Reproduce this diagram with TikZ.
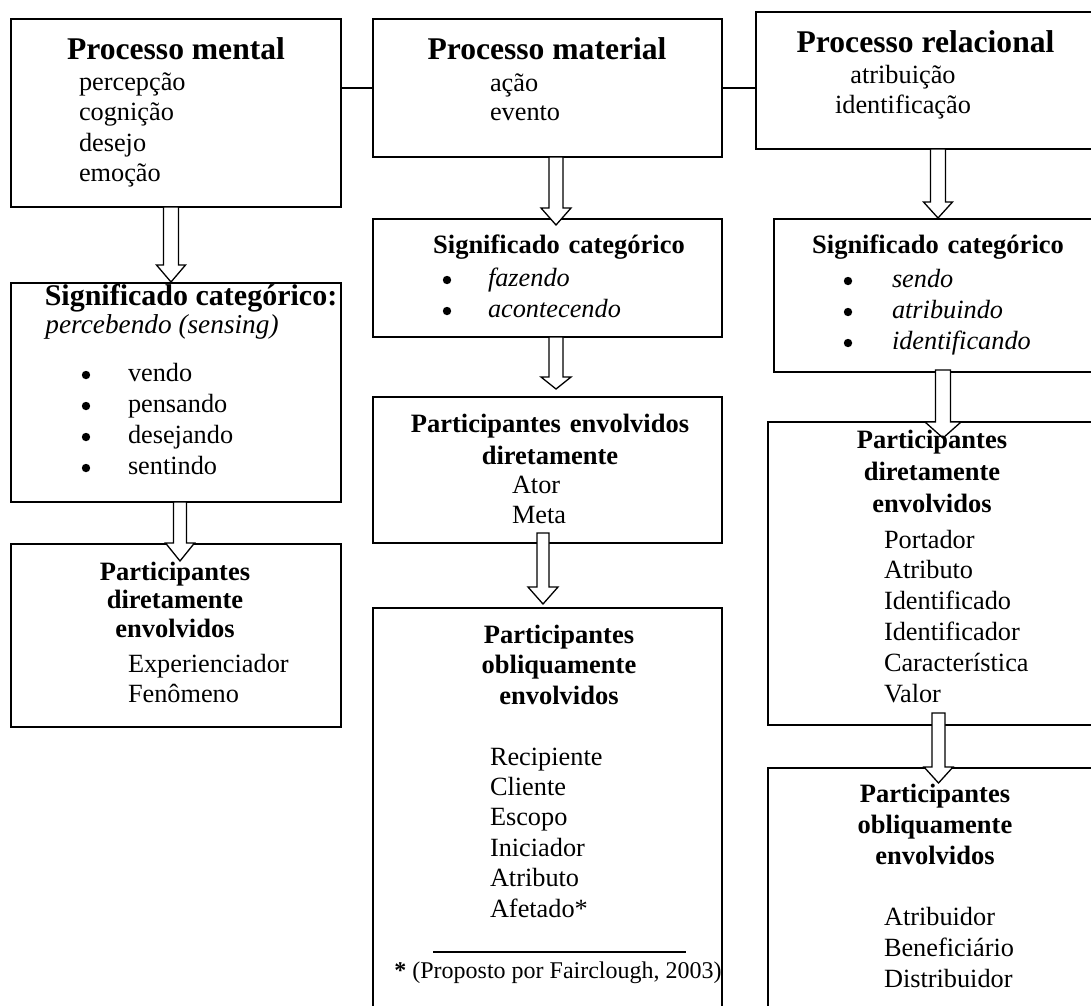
\documentclass[tikz,border=0pt]{standalone}
\usepackage{fontspec}
\setmainfont{Liberation Serif}
\usetikzlibrary{calc}

% hollow block arrow: start, tip, shaft half width, head half width, head length
\newcommand\hollowarrow[5]{%
  \draw[arr] let \p1=(#1), \p2=(#2) in
    (\x1-#3,\y1) -- (\x1-#3,\y2+#5) -- (\x1-#4,\y2+#5) -- (\x1,\y2)
    -- (\x1+#4,\y2+#5) -- (\x1+#3,\y2+#5) -- (\x1+#3,\y1) -- cycle;}
% round list markers: list node, left offset, number of lines, line step
\newcommand\bullets[4]{%
  \foreach \i in {1,...,#3}
    \fill ([xshift=-#2, yshift=6pt-#4*(\i-1)]#1.base west) circle (4.2pt);}

\tikzset{
  box/.style={draw, line width=1.6pt, fill=white, inner sep=0pt, outer sep=0pt, anchor=north west},
  arr/.style={draw, line width=1.3pt, fill=white, line join=miter},
  link/.style={line width=1.3pt},
  ttl/.style={inner sep=0pt, outer sep=0pt, anchor=base, font=\bfseries\fontsize{31.6}{36}\selectfont},
  lst/.style={inner sep=0pt, outer sep=0pt, anchor=base west, text width=200pt, align=left,
              font=\fontsize{26.3}{#1}\selectfont},
  clst/.style={inner sep=0pt, outer sep=0pt, anchor=base, text width=300pt, align=center,
              font=\fontsize{26.3}{#1}\selectfont},
  hd/.style={inner sep=0pt, outer sep=0pt, anchor=base, text width=300pt, align=center,
              font=\bfseries\fontsize{26.5}{#1}\selectfont},
}

\begin{document}
\begin{tikzpicture}[x=1pt, y=-1pt]
\useasboundingbox (0,0) rectangle (1091,1005);
\clip (0,0) rectangle (1091,1005);

% boxes
\node[box, minimum width=330pt, minimum height=188pt] (mental) at (11,19) {};
\node[box, minimum width=349pt, minimum height=138pt] (material) at (373,19) {};
\node[box, minimum width=339pt, minimum height=137pt] (relacional) at (756,12) {};
\node[box, minimum width=330pt, minimum height=219pt] (sigM) at (11,283) {};
\node[box, minimum width=349pt, minimum height=118pt] (sigMat) at (373,219) {};
\node[box, minimum width=328pt, minimum height=153pt] (sigRel) at (774,219) {};
\node[box, minimum width=330pt, minimum height=183pt] (partM) at (11,544) {};
\node[box, minimum width=349pt, minimum height=146pt] (partMat) at (373,397) {};
\node[box, minimum width=330pt, minimum height=303pt] (partRel) at (768,422) {};
\node[box, minimum width=349pt, minimum height=400pt] (oblMat) at (373,608) {};
\node[box, minimum width=330pt, minimum height=240pt] (oblRel) at (768,768) {};

% links between the three processes
\draw[link] ([yshift=25pt]mental.east) -- (material.west);
\draw[link] (material.east) -- (material.east -| relacional.west);

% downward arrows
\hollowarrow{[xshift=-5pt]mental.south}{[yshift=1pt]sigM.north}{7.5pt}{14.5pt}{17pt}
\hollowarrow{[xshift=4pt]sigM.south}{[yshift=-17pt]partM.north}{6.5pt}{14.5pt}{18pt}
\hollowarrow{[xshift=8.5pt]material.south}{[yshift=-6pt]sigMat.north}{7pt}{15pt}{17pt}
\hollowarrow{[xshift=8.5pt]sigMat.south}{[yshift=8pt]partMat.north}{7pt}{15pt}{12pt}
\hollowarrow{[xshift=-4.5pt,yshift=10pt]partMat.south}{[yshift=4pt]oblMat.north}{6pt}{15pt}{17pt}
\hollowarrow{[xshift=12.5pt]relacional.south}{[yshift=1pt]sigRel.north}{7.5pt}{14.5pt}{16pt}
\hollowarrow{[xshift=5pt,yshift=2pt]sigRel.south}{[yshift=-16pt]partRel.north}{7.5pt}{18pt}{16pt}
\hollowarrow{[xshift=5.5pt,yshift=12pt]partRel.south}{[yshift=-15pt]oblRel.north}{6.5pt}{14.5pt}{16pt}

% process titles
\node[ttl] (tMental) at (176,59) {Processo mental};
\node[ttl] (tMaterial) at (547,59) {Processo material};
\node[ttl] (tRel) at (925.5,52) {Processo relacional};
\node[lst=30.5] (lMental) at (79,90) {percepção\\cognição\\desejo\\emoção};
\node[lst=29.5] (lMaterial) at (490,91) {ação\\evento};
\node[clst=30] (lRel) at (903,83) {atribuição\\identificação};

% categorical meaning
\node[inner sep=0pt, anchor=base, font=\bfseries\fontsize{30}{34}\selectfont] (hSigM) at (191,305.5) {Significado categórico:};
\node[inner sep=0pt, anchor=base, font=\itshape\fontsize{27.3}{31}\selectfont] (iSigM) at (162,333) {percebendo (sensing)};
\node[lst=31] (bSigM) at (128,381) {vendo\\pensando\\desejando\\sentindo};
\bullets{bSigM}{42pt}{4}{31pt}

\node[hd=31] (hSigMat) at (559,253) {Significado categórico};
\node[lst=31] (bSigMat) at (488,286) {\textit{fazendo}\\\textit{acontecendo}};
\bullets{bSigMat}{41pt}{2}{31pt}

\node[hd=31] (hSigRel) at (938,253) {Significado categórico};
\node[lst=31] (bSigRel) at (892,287) {\textit{sendo}\\\textit{atribuindo}\\\textit{identificando}};
\bullets{bSigRel}{44pt}{3}{31pt}

% directly involved participants
\node[hd=28.5] (hPartM) at (175,580) {Participantes\\diretamente\\envolvidos};
\node[lst=30] (lPartM) at (128,672) {Experienciador\\Fenômeno};

\node[hd=32] (hPartMat) at (550,432) {Participantes envolvidos\\diretamente};
\node[lst=30] (lPartMat) at (512,493) {Ator\\Meta};

\node[hd=32] (hPartRel) at (932,448) {Participantes\\diretamente\\envolvidos};
\node[lst=30.8] (lPartRel) at (884,548) {Portador\\Atributo\\Identificado\\Identificador\\Característica\\Valor};

% obliquely involved participants
\node[hd=30.5] (hOblMat) at (559,643) {Participantes\\obliquamente\\envolvidos};
\node[lst=30.4] (lOblMat) at (490,765) {Recipiente\\Cliente\\Escopo\\Iniciador\\Atributo\\Afetado*};
\draw[line width=1.2pt] (433,952) -- (686,952);
\node[inner sep=0pt, anchor=base, font=\fontsize{24}{28}\selectfont] (fOblMat) at (558,978) {\textbf{*} (Proposto por Fairclough, 2003)};

\node[hd=31] (hOblRel) at (935,802) {Participantes\\obliquamente\\envolvidos};
\node[lst=31] (lOblRel) at (884,925) {Atribuidor\\Beneficiário\\Distribuidor};
\end{tikzpicture}
\end{document}
